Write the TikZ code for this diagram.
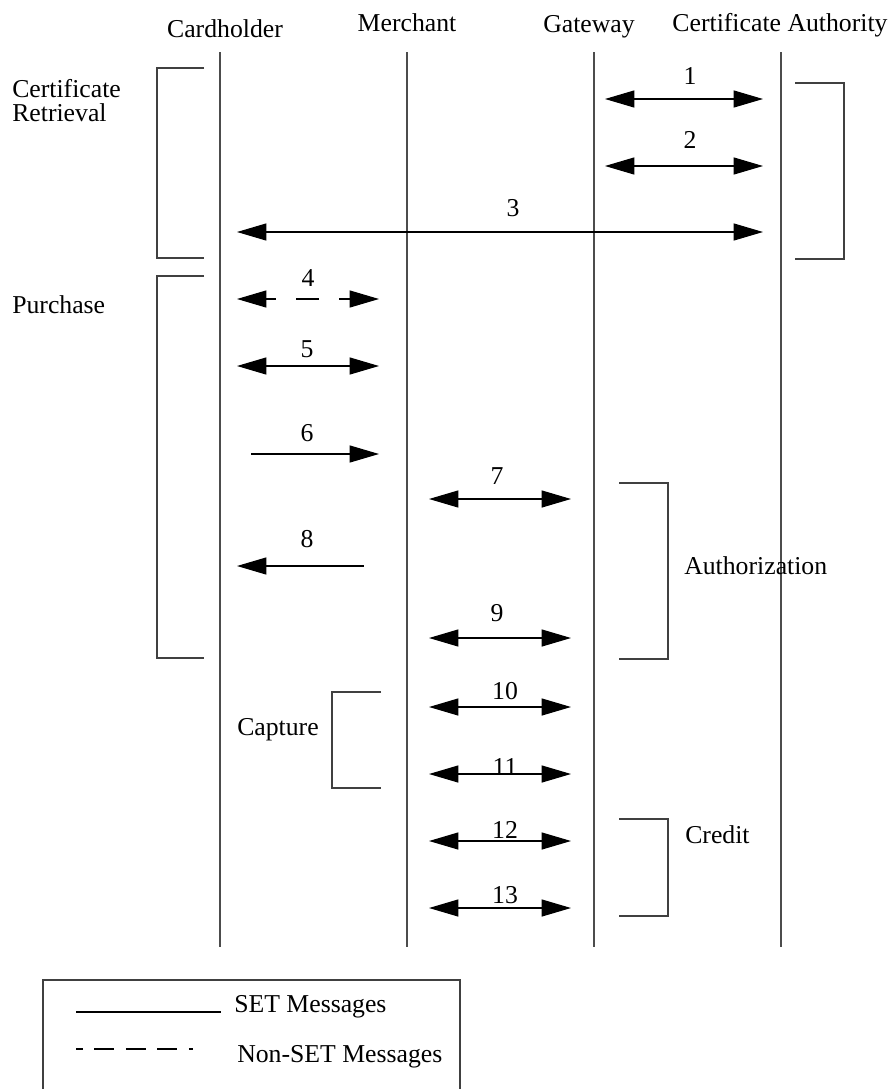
\documentclass[tikz,border=0pt]{standalone}
\usepackage{fontspec}
\setmainfont{Liberation Serif}
\usetikzlibrary{arrows.meta}

\begin{document}
\begin{tikzpicture}[x=0.75pt,y=-0.75pt,>={Triangle[length=22pt,width=12.75pt]}]
  \tikzstyle{every node}=[font=\fontsize{19.3}{18}\selectfont,inner sep=0pt]
  \tikzstyle{HeadStyle}=[anchor=base]
  \tikzstyle{PhaseStyle}=[anchor=base west,align=left]
  \tikzstyle{NumStyle}=[anchor=base]
  \tikzstyle{LifeStyle}=[draw=black!70,line width=1.2pt]
  \tikzstyle{BracketStyle}=[draw=black!75,line width=1pt]
  \tikzstyle{SetStyle}=[draw=black,line width=0.9pt]
  \tikzstyle{NonSetStyle}=[SetStyle,dash pattern=on 17.25pt off 15pt,dash phase=9.75pt]
  \useasboundingbox (0,0) rectangle (891,1089);
  % parties
  \node[HeadStyle] (ch) at (225,37) {Cardholder};
  \node[HeadStyle] (mer) at (407,31) {Merchant};
  \node[HeadStyle] (gw) at (589,32) {Gateway};
  \node[HeadStyle] (ca) at (780,31) {Certificate Authority};
  % lifelines
  \coordinate (ch_t) at (220,52);
  \coordinate (ch_b) at (220,947);
  \coordinate (mer_t) at (407,52);
  \coordinate (mer_b) at (407,947);
  \coordinate (gw_t) at (594,52);
  \coordinate (gw_b) at (594,947);
  \coordinate (ca_t) at (781,52);
  \coordinate (ca_b) at (781,947);
  \draw[LifeStyle] (ch_t) -- (ch_b);
  \draw[LifeStyle] (mer_t) -- (mer_b);
  \draw[LifeStyle] (gw_t) -- (gw_b);
  \draw[LifeStyle] (ca_t) -- (ca_b);
  % phases
  \node[PhaseStyle] (cr) at (12,121) {Certificate\\Retrieval};
  \node[PhaseStyle] (pu) at (12,313) {Purchase};
  \node[PhaseStyle] (au) at (684,574) {Authorization};
  \node[PhaseStyle] (cp) at (237,735) {Capture};
  \node[PhaseStyle] (cd) at (685,843) {Credit};
  \draw[BracketStyle] (204,68) -- (157,68) -- (157,258) -- (204,258);
  \draw[BracketStyle] (204,276) -- (157,276) -- (157,658) -- (204,658);
  \draw[BracketStyle] (795,83) -- (844,83) -- (844,259) -- (795,259);
  \draw[BracketStyle] (619,483) -- (668,483) -- (668,659) -- (619,659);
  \draw[BracketStyle] (381,692) -- (332,692) -- (332,788) -- (381,788);
  \draw[BracketStyle] (619,819) -- (668,819) -- (668,916) -- (619,916);
  % messages
  \coordinate (m1_a) at (605,99);
  \coordinate (m1_b) at (763,99);
  \coordinate (m2_a) at (605,166);
  \coordinate (m2_b) at (763,166);
  \coordinate (m3_a) at (237,232);
  \coordinate (m3_b) at (763,232);
  \coordinate (m4_a) at (237,299);
  \coordinate (m4_b) at (379,299);
  \coordinate (m5_a) at (237,366);
  \coordinate (m5_b) at (379,366);
  \coordinate (m6_a) at (251,454);
  \coordinate (m6_b) at (379,454);
  \coordinate (m7_a) at (429,499);
  \coordinate (m7_b) at (571,499);
  \coordinate (m8_a) at (237,566);
  \coordinate (m8_b) at (364,566);
  \coordinate (m9_a) at (429,638);
  \coordinate (m9_b) at (571,638);
  \coordinate (m10_a) at (429,707);
  \coordinate (m10_b) at (571,707);
  \coordinate (m11_a) at (429,774);
  \coordinate (m11_b) at (571,774);
  \coordinate (m12_a) at (429,841);
  \coordinate (m12_b) at (571,841);
  \coordinate (m13_a) at (429,908);
  \coordinate (m13_b) at (571,908);
  \draw[SetStyle,<->] (m1_a) -- (m1_b);
  \draw[SetStyle,<->] (m2_a) -- (m2_b);
  \draw[SetStyle,<->] (m3_a) -- (m3_b);
  \draw[NonSetStyle,<->] (m4_a) -- (m4_b);
  \draw[SetStyle,<->] (m5_a) -- (m5_b);
  \draw[SetStyle,->] (m6_a) -- (m6_b);
  \draw[SetStyle,<->] (m7_a) -- (m7_b);
  \draw[SetStyle,<-] (m8_a) -- (m8_b);
  \draw[SetStyle,<->] (m9_a) -- (m9_b);
  \draw[SetStyle,<->] (m10_a) -- (m10_b);
  \draw[SetStyle,<->] (m11_a) -- (m11_b);
  \draw[SetStyle,<->] (m12_a) -- (m12_b);
  \draw[SetStyle,<->] (m13_a) -- (m13_b);
  \node[NumStyle] (n1) at (690,84) {1};
  \node[NumStyle] (n2) at (690,148) {2};
  \node[NumStyle] (n3) at (513,216) {3};
  \node[NumStyle] (n4) at (308,286) {4};
  \node[NumStyle] (n5) at (307,357) {5};
  \node[NumStyle] (n6) at (307,441) {6};
  \node[NumStyle] (n7) at (497,484) {7};
  \node[NumStyle] (n8) at (307,547) {8};
  \node[NumStyle] (n9) at (497,621) {9};
  \node[NumStyle] (n10) at (505,699) {10};
  \node[NumStyle] (n11) at (505,775) {11};
  \node[NumStyle] (n12) at (505,838) {12};
  \node[NumStyle] (n13) at (505,903) {13};
  % legend
  \draw[BracketStyle] (43,1095) -- (43,980) -- (460,980) -- (460,1095);
  \coordinate (set_a) at (76,1012);
  \coordinate (set_b) at (221,1012);
  \coordinate (non_a) at (76,1049);
  \coordinate (non_b) at (193,1049);
  \draw[SetStyle] (set_a) -- (set_b);
  \draw[SetStyle,dash pattern=on 15pt off 8.6pt,dash phase=9.75pt] (non_a) -- (non_b);
  \node[PhaseStyle] (set) at (234,1012) {SET Messages};
  \node[PhaseStyle] (nonset) at (237,1062) {Non-SET Messages};
\end{tikzpicture}
\end{document}
